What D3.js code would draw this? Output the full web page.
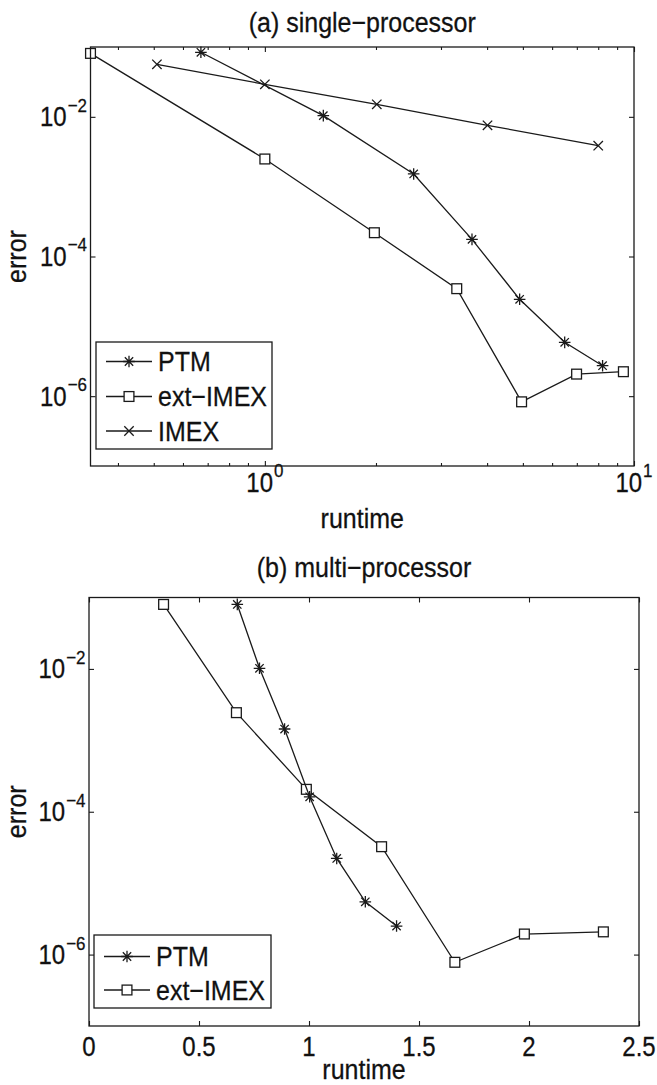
<!DOCTYPE html>
<html>
<head>
<meta charset="utf-8">
<script src="https://cdn.jsdelivr.net/npm/d3@7"></script>
<style>
  html, body { margin: 0; padding: 0; background: #ffffff; }
  svg { display: block; }
  text { font-family: "Liberation Sans", Arial, Helvetica, sans-serif; fill: #111; stroke: #111; stroke-width: 0.25px; }
</style>
</head>
<body>
<svg id="fig" width="657" height="1085"></svg>
<script>
// ---- panel (a): single-processor runtimes and errors ----
const ptmRuntimeA   = [0.671, 1.44, 2.53, 3.64, 4.90, 6.49, 8.22];
const ptmErrorA     = [0.084, 0.0104, 1.52e-3, 1.76e-4, 2.44e-5, 5.9e-6, 2.73e-6];
const extRuntimeA   = [0.337, 1.0, 1.98, 3.31, 4.96, 6.99, 9.36];
const extErrorA     = [0.081, 2.49e-3, 2.19e-4, 3.46e-5, 8.3e-7, 2.07e-6, 2.24e-6];
const imexRuntimeA  = [0.51, 1.0, 2.01, 4.01, 8.0];
const imexErrorA    = [0.0565, 0.0292, 0.0151, 7.56e-3, 3.86e-3];

// ---- panel (b): multi-processor runtimes and errors ----
const ptmRuntimeB   = [0.674, 0.775, 0.889, 1.003, 1.126, 1.256, 1.398];
const ptmErrorB     = [0.080, 0.0102, 1.44e-3, 1.62e-4, 2.22e-5, 5.48e-6, 2.51e-6];
const extRuntimeB   = [0.339, 0.670, 0.988, 1.330, 1.663, 1.979, 2.338];
const extErrorB     = [0.080, 2.44e-3, 2.06e-4, 3.24e-5, 7.8e-7, 1.94e-6, 2.08e-6];

// ---- axis ticks and labels ----
const errorTickExponents   = [-2, -4, -6];
const runtimeTickExpA      = [0, 1];
const runtimeMinorA        = [0.4, 0.5, 0.6, 0.7, 0.8, 0.9, 2, 3, 4, 5, 6, 7, 8, 9];
const runtimeTicksB        = [0, 0.5, 1, 1.5, 2, 2.5];
const runtimeTickLabelsB   = ["0", "0.5", "1", "1.5", "2", "2.5"];
const legendLabelsA        = ["PTM", "ext\u2212IMEX", "IMEX"];
const legendLabelsB        = ["PTM", "ext\u2212IMEX"];
const panelTitles          = ["(a) single\u2212processor", "(b) multi\u2212processor"];

const svg = d3.select("#fig");
const INK = "#1a1a1a";
const LW = 1.3;
const SY = 1.12;   // glyphs are drawn slightly taller than wide

// text placed at (x, baseline) with a vertical stretch about its baseline
function label(g, x, y, str, size, anchor, rotate) {
  const t = g.append("text")
    .attr("transform", `translate(${x},${y})${rotate ? " rotate(-90)" : ""} scale(1,${SY})`)
    .attr("text-anchor", anchor || "start")
    .style("font-size", size + "px")
    .text(str);
  return t;
}

// marker glyphs centred on (0,0)
function drawMarker(g, kind) {
  if (kind === "star") {
    const r = 5.8, a = r * 0.72;
    g.append("path")
      .attr("d", `M0,${-r}V${r}M${-r},0H${r}M${-a},${-a}L${a},${a}M${-a},${a}L${a},${-a}`)
      .attr("stroke", INK).attr("stroke-width", LW).attr("fill", "none");
  } else if (kind === "square") {
    const h = 4.9;
    g.append("rect").attr("x", -h).attr("y", -h).attr("width", 2 * h).attr("height", 2 * h)
      .attr("stroke", INK).attr("stroke-width", LW).attr("fill", "#fff");
  } else {
    const a = 4.7;
    g.append("path")
      .attr("d", `M${-a},${-a}L${a},${a}M${-a},${a}L${a},${-a}`)
      .attr("stroke", INK).attr("stroke-width", LW).attr("fill", "none");
  }
}

function drawSeries(layer, x, y, xs, ys, kind) {
  const pts = xs.map((v, i) => [v, ys[i]]);
  layer.append("path")
    .datum(pts)
    .attr("d", d3.line().x(d => x(d[0])).y(d => y(d[1])))
    .attr("fill", "none").attr("stroke", INK).attr("stroke-width", LW);
  pts.forEach(d => {
    const m = layer.append("g").attr("transform", `translate(${x(d[0])},${y(d[1])})`);
    drawMarker(m, kind);
  });
}

// inward ticks via d3 axes, frame drawn as a rectangle
function ticks(g, axisFn, scale, values, size, at) {
  const ax = axisFn(scale).tickValues(values).tickSize(-size).tickFormat("");
  const sel = g.append("g").attr("transform", at).call(ax);
  sel.select(".domain").remove();
  sel.selectAll(".tick line").attr("stroke", INK).attr("stroke-width", 1.1);
}

function powerLabel(g, x, baseline, exp, anchor) {
  const t = label(g, x, baseline, null, 24, anchor);
  t.append("tspan").text("10");
  t.append("tspan").attr("dy", -13).attr("dx", 1).style("font-size", "17px")
    .text(String(exp).replace("-", "\u2212"));
}

function legend(g, box, rows, labels, kinds) {
  g.append("rect")
    .attr("x", box.x).attr("y", box.y).attr("width", box.w).attr("height", box.h)
    .attr("fill", "#fff").attr("stroke", INK).attr("stroke-width", LW);
  labels.forEach((lab, i) => {
    const yy = rows[i];
    g.append("line").attr("x1", box.x + 10).attr("x2", box.x + 56)
      .attr("y1", yy).attr("y2", yy).attr("stroke", INK).attr("stroke-width", LW);
    const m = g.append("g").attr("transform", `translate(${box.x + 33},${yy})`);
    drawMarker(m, kinds[i]);
    label(g, box.x + 62, yy + 9.8, lab, 25, "start");
  });
}

// ================= panel (a) =================
{
  const L = 90.5, R = 634, T = 47, B = 466;
  const x = d3.scaleLog().domain([0.337, 10]).range([L, R]);
  const y = d3.scaleLog().domain([1e-7, 1e-1]).range([B, T]);
  const g = svg.append("g");

  g.append("rect").attr("x", L).attr("y", T).attr("width", R - L).attr("height", B - T)
    .attr("fill", "#fff").attr("stroke", "none");

  const majorX = runtimeTickExpA.map(e => Math.pow(10, e));
  const majorY = errorTickExponents.map(e => Math.pow(10, e));
  ticks(g, d3.axisBottom, x, majorX, 5, `translate(0,${B})`);
  ticks(g, d3.axisTop, x, majorX, 5, `translate(0,${T})`);
  ticks(g, d3.axisBottom, x, runtimeMinorA, 3, `translate(0,${B})`);
  ticks(g, d3.axisTop, x, runtimeMinorA, 3, `translate(0,${T})`);
  ticks(g, d3.axisLeft, y, majorY, 5, `translate(${L},0)`);
  ticks(g, d3.axisRight, y, majorY, 5, `translate(${R},0)`);

  const plot = g.append("g");
  drawSeries(plot, x, y, imexRuntimeA, imexErrorA, "cross");
  drawSeries(plot, x, y, extRuntimeA, extErrorA, "square");
  drawSeries(plot, x, y, ptmRuntimeA, ptmErrorA, "star");

  g.append("rect").attr("x", L).attr("y", T).attr("width", R - L).attr("height", B - T)
    .attr("fill", "none").attr("stroke", INK).attr("stroke-width", 1.3);

  legend(g, { x: 96, y: 342, w: 176, h: 107 }, [361.5, 396.5, 431], legendLabelsA,
    ["star", "square", "cross"]);

  errorTickExponents.forEach(e => powerLabel(g, L - 3.5, y(Math.pow(10, e)) + 9.5, e, "end"));
  runtimeTickExpA.forEach(e => powerLabel(g, x(Math.pow(10, e)), 492, e, "middle"));

  label(g, (L + R) / 2, 32, panelTitles[0], 25, "middle");
  label(g, (L + R) / 2, 528, "runtime", 25, "middle");
  label(g, 26, (T + B) / 2, "error", 25, "middle", true);
}

// ================= panel (b) =================
{
  const L = 89, R = 639, T = 597.5, B = 1026;
  const x = d3.scaleLinear().domain([0, 2.5]).range([L, R]);
  const y = d3.scaleLog().domain([1e-7, 1e-1]).range([B, T]);
  const g = svg.append("g");

  g.append("rect").attr("x", L).attr("y", T).attr("width", R - L).attr("height", B - T)
    .attr("fill", "#fff").attr("stroke", "none");

  const majorY = errorTickExponents.map(e => Math.pow(10, e));
  ticks(g, d3.axisBottom, x, runtimeTicksB, 5, `translate(0,${B})`);
  ticks(g, d3.axisTop, x, runtimeTicksB, 5, `translate(0,${T})`);
  ticks(g, d3.axisLeft, y, majorY, 5, `translate(${L},0)`);
  ticks(g, d3.axisRight, y, majorY, 5, `translate(${R},0)`);

  const plot = g.append("g");
  drawSeries(plot, x, y, extRuntimeB, extErrorB, "square");
  drawSeries(plot, x, y, ptmRuntimeB, ptmErrorB, "star");

  g.append("rect").attr("x", L).attr("y", T).attr("width", R - L).attr("height", B - T)
    .attr("fill", "none").attr("stroke", INK).attr("stroke-width", 1.3);

  legend(g, { x: 94, y: 935, w: 177, h: 73 }, [956.5, 990], legendLabelsB, ["star", "square"]);

  errorTickExponents.forEach(e => powerLabel(g, L - 3.5, y(Math.pow(10, e)) + 9.5, e, "end"));
  runtimeTicksB.forEach((v, i) => label(g, x(v), 1056, runtimeTickLabelsB[i], 24, "middle"));

  label(g, (L + R) / 2, 577, panelTitles[1], 25, "middle");
  label(g, (L + R) / 2, 1079, "runtime", 25, "middle");
  label(g, 26, (T + B) / 2, "error", 25, "middle", true);
}
</script>
</body>
</html>
